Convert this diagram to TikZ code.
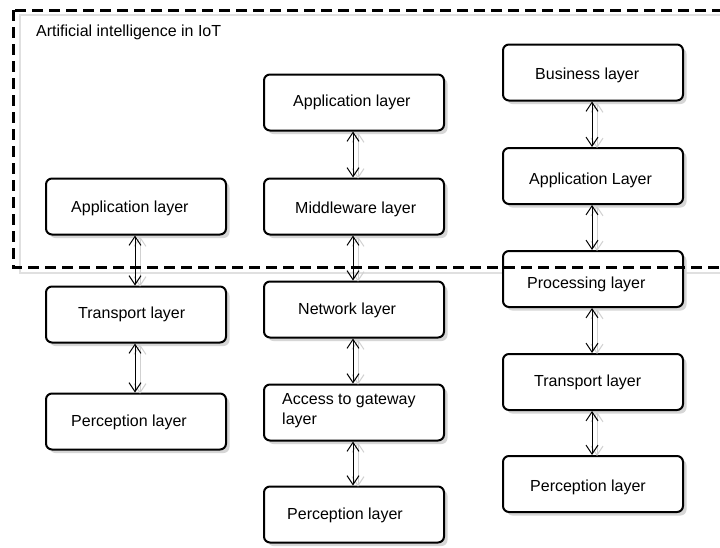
\documentclass[tikz,border=0pt]{standalone}
\usepackage{fontspec}
\setmainfont{Liberation Sans}
\usetikzlibrary{arrows.meta,shadows}
\tikzset{
  layerbox/.style={draw=black, line width=2pt, rounded corners=6pt, fill=white,
    minimum width=180pt, minimum height=56pt, inner sep=0pt,
    drop shadow={shadow xshift=3.5pt, shadow yshift=-3.5pt, fill=black!16, opacity=1}},
  lbl/.style={font=\fontsize{16}{20}\selectfont, inner sep=0pt, anchor=base west},
  link/.style={line width=1pt, {Straight Barb[length=9pt,width=12pt]}-{Straight Barb[length=9pt,width=12pt]}},
  linkshadow/.style={link, draw=black!18},
  framebox/.style={line width=3pt, dash pattern=on 11pt off 6pt},
  frameshadow/.style={line width=2.5pt, draw=black!12},
}
\newcommand\layerbox[6]{%
  \node[layerbox] (#1) at (#2,#3) {};
  \node[lbl] (#1t) at ([xshift=#4pt, yshift=-#5pt]#1.west) {#6};
}
\newcommand\linkpair[2]{%
  \draw[linkshadow] ([xshift=4pt,yshift=-1pt]#1.south) -- ([xshift=4pt,yshift=-1pt]#2.north);
  \draw[link] ([xshift=-1pt]#1.south) -- ([xshift=-1pt]#2.north);
}
\begin{document}
\begin{tikzpicture}[x=1pt,y=-1pt]
\useasboundingbox (0,0) rectangle (720,547);
\clip (0,0) rectangle (720,547);
\fill[white] (0,0) rectangle (720,547);
% shadow of the frame
\draw[frameshadow] (20,15) rectangle (740,273);
% column 1
\layerbox{c1a}{136}{206.5}{26}{5.5}{Application layer}
\layerbox{c1b}{136}{314.5}{33}{3.8}{Transport layer}
\layerbox{c1c}{136}{421.5}{26}{5.2}{Perception layer}
% column 2
\layerbox{c2a}{354}{102.5}{30}{4.2}{Application layer}
\layerbox{c2b}{354}{206.5}{32}{6.8}{Middleware layer}
\layerbox{c2c}{354}{309.5}{35}{4.5}{Network layer}
\node[layerbox] (c2d) at (354,412.5) {};
\node[lbl, anchor=west, align=left] (c2dt) at ([xshift=19pt, yshift=1.5pt]c2d.west) {Access to gateway\\layer};
\layerbox{c2e}{354}{514.5}{24}{4.5}{Perception layer}
% column 3
\layerbox{c3a}{593}{72.5}{33}{6.5}{Business layer}
\layerbox{c3b}{593}{176}{27}{8}{Application Layer}
\layerbox{c3c}{593}{279}{25}{9.5}{Processing layer}
\layerbox{c3d}{593}{382}{32}{4.7}{Transport layer}
\layerbox{c3e}{593}{484}{28}{7.7}{Perception layer}
% connectors
\linkpair{c1a}{c1b}
\linkpair{c1b}{c1c}
\linkpair{c2a}{c2b}
\linkpair{c2b}{c2c}
\linkpair{c2c}{c2d}
\linkpair{c2d}{c2e}
\linkpair{c3a}{c3b}
\linkpair{c3b}{c3c}
\linkpair{c3c}{c3d}
\linkpair{c3d}{c3e}
% frame
\draw[framebox] (13,10) rectangle (740,267);
\node[lbl] (title) at (36,36.5) {Artificial intelligence in IoT};
\end{tikzpicture}
\end{document}
